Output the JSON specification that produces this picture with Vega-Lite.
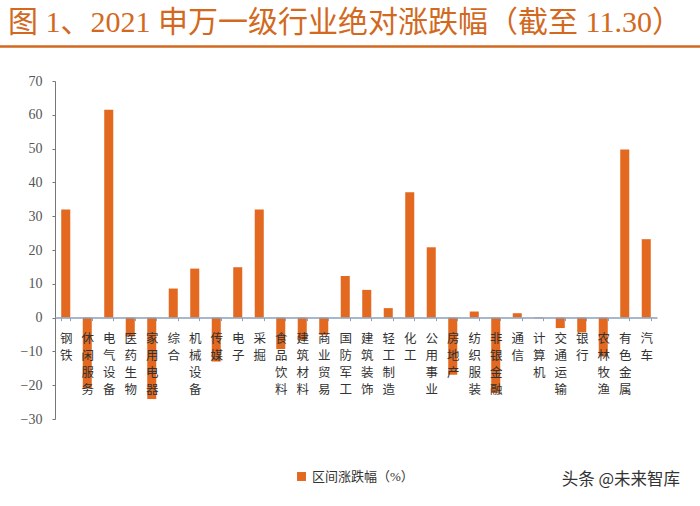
{
  "$schema": "https://vega.github.io/schema/vega-lite/v6.json",
  "width": 602,
  "height": 338,
  "autosize": {"type": "none"},
  "padding": {"left": 55, "top": 81, "right": 43, "bottom": 87},
  "background": "white",
  "title": {
    "text": "图 1、2021 申万一级行业绝对涨跌幅（截至 11.30）",
    "anchor": "start",
    "frame": "group",
    "dx": -47,
    "offset": -17,
    "baseline": "alphabetic",
    "color": "#d2691e",
    "font": "Liberation Serif, Noto Sans CJK SC",
    "fontSize": 30,
    "fontWeight": "normal"
  },
  "config": {
    "view": {"stroke": null},
    "axisY": {
      "title": null,
      "labelOverlap": false,
      "grid": false,
      "labelFont": "Liberation Serif",
      "labelFontSize": 14,
      "labelColor": "#555555",
      "labelPadding": 10,
      "domainColor": "#777777",
      "tickColor": "#777777",
      "tickSize": 3
    }
  },
  "layer": [
    {
      "data": {
        "values": [
          {"industry": "钢铁", "value": 32.0, "series": "区间涨跌幅（%）"},
          {"industry": "休闲服务", "value": -20.9, "series": "区间涨跌幅（%）"},
          {"industry": "电气设备", "value": 61.5, "series": "区间涨跌幅（%）"},
          {"industry": "医药生物", "value": -5.6, "series": "区间涨跌幅（%）"},
          {"industry": "家用电器", "value": -24.1, "series": "区间涨跌幅（%）"},
          {"industry": "综合", "value": 8.6, "series": "区间涨跌幅（%）"},
          {"industry": "机械设备", "value": 14.5, "series": "区间涨跌幅（%）"},
          {"industry": "传媒", "value": -13.0, "series": "区间涨跌幅（%）"},
          {"industry": "电子", "value": 14.9, "series": "区间涨跌幅（%）"},
          {"industry": "采掘", "value": 32.0, "series": "区间涨跌幅（%）"},
          {"industry": "食品饮料", "value": -9.3, "series": "区间涨跌幅（%）"},
          {"industry": "建筑材料", "value": -6.6, "series": "区间涨跌幅（%）"},
          {"industry": "商业贸易", "value": -5.1, "series": "区间涨跌幅（%）"},
          {"industry": "国防军工", "value": 12.3, "series": "区间涨跌幅（%）"},
          {"industry": "建筑装饰", "value": 8.2, "series": "区间涨跌幅（%）"},
          {"industry": "轻工制造", "value": 2.8, "series": "区间涨跌幅（%）"},
          {"industry": "化工", "value": 37.1, "series": "区间涨跌幅（%）"},
          {"industry": "公用事业", "value": 20.8, "series": "区间涨跌幅（%）"},
          {"industry": "房地产", "value": -16.9, "series": "区间涨跌幅（%）"},
          {"industry": "纺织服装", "value": 1.8, "series": "区间涨跌幅（%）"},
          {"industry": "非银金融", "value": -22.3, "series": "区间涨跌幅（%）"},
          {"industry": "通信", "value": 1.3, "series": "区间涨跌幅（%）"},
          {"industry": "计算机", "value": -0.2, "series": "区间涨跌幅（%）"},
          {"industry": "交通运输", "value": -3.1, "series": "区间涨跌幅（%）"},
          {"industry": "银行", "value": -4.4, "series": "区间涨跌幅（%）"},
          {"industry": "农林牧渔", "value": -11.5, "series": "区间涨跌幅（%）"},
          {"industry": "有色金属", "value": 49.7, "series": "区间涨跌幅（%）"},
          {"industry": "汽车", "value": 23.2, "series": "区间涨跌幅（%）"}
        ]
      },
      "mark": {"type": "bar"},
      "encoding": {
        "x": {
          "field": "industry",
          "type": "nominal",
          "sort": null,
          "scale": {"paddingInner": 0.58, "paddingOuter": 0.29},
          "axis": {
            "title": null,
            "orient": "bottom",
            "offset": -101.4,
            "labelAngle": 0,
            "labelExpr": "split(datum.label, '')",
            "labelFont": "Noto Sans CJK SC",
            "labelFontSize": 12.5,
            "labelColor": "#333333",
            "labelLineHeight": 17,
            "labelBaseline": "top",
            "labelPadding": 12,
            "labelOverlap": false,
            "domainColor": "#8aa0bd",
            "domainWidth": 1.5,
            "tickColor": "#8aa0bd",
            "tickSize": 3,
            "tickBand": "extent",
            "zindex": 1
          }
        },
        "y": {
          "field": "value",
          "type": "quantitative",
          "scale": {"domain": [-30, 70], "nice": false},
          "axis": {"values": [-30, -20, -10, 0, 10, 20, 30, 40, 50, 60, 70]}
        },
        "color": {
          "field": "series",
          "type": "nominal",
          "scale": {"range": ["#e2691f"]},
          "legend": {
            "orient": "none",
            "legendX": 240,
            "legendY": 389,
            "title": null,
            "symbolType": "square",
            "symbolSize": 80,
            "labelFont": "Liberation Serif, Noto Sans CJK SC",
            "labelFontSize": 13,
            "labelColor": "#333333"
          }
        }
      }
    },
    {
      "data": {"values": [{"start": -0.0914, "end": 1.0714, "level": 80.2}]},
      "mark": {"type": "rule", "clip": false, "color": "#d2691e", "strokeWidth": 2.5},
      "encoding": {
        "x": {"field": "start", "type": "quantitative", "scale": {"domain": [0, 1]}, "axis": null},
        "x2": {"field": "end"},
        "y": {"field": "level", "type": "quantitative", "axis": {"values": [-30, -20, -10, 0, 10, 20, 30, 40, 50, 60, 70]}}
      }
    },
    {
      "data": {"values": [{"pos": 0.94, "level": -48, "mark": "头条 @未来智库"}]},
      "mark": {"type": "text", "clip": false, "font": "Noto Sans CJK SC", "fontSize": 16.5, "color": "#333333"},
      "encoding": {
        "x": {"field": "pos", "type": "quantitative", "scale": {"domain": [0, 1]}, "axis": null},
        "y": {"field": "level", "type": "quantitative", "axis": {"values": [-30, -20, -10, 0, 10, 20, 30, 40, 50, 60, 70]}},
        "text": {"field": "mark"}
      }
    }
  ],
  "resolve": {"scale": {"x": "independent"}}
}
